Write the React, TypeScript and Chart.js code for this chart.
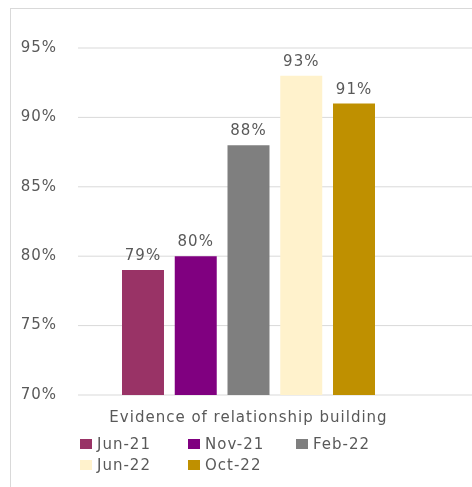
import React, { useEffect, useRef } from 'react';
import { Chart, registerables } from 'chart.js';

Chart.register(...registerables);

const categories = ['Evidence of relationship building'];
const seriesNames = ['Jun-21', 'Nov-21', 'Feb-22', 'Jun-22', 'Oct-22'];
const seriesValues = [79, 80, 88, 93, 91];
const seriesColors = ['#993366', '#800080', '#7f7f7f', '#fff2cc', '#bf9000'];
const yTicks = [70, 75, 80, 85, 90, 95];

const TEXT = '#595959';
const FONT = { family: 'DejaVu Sans', size: 15 };
const FONT_STR = `${FONT.size}px "${FONT.family}"`;

const spacingPlugin = {
  id: 'spacing',
  beforeUpdate(chart: any) {
    chart.ctx.letterSpacing = '1px';
  },
  beforeDraw(chart: any) {
    chart.ctx.letterSpacing = '1px';
  },
};

const gridPlugin = {
  id: 'extGrid',
  beforeDatasetsDraw(chart: any) {
    const { ctx, chartArea, scales } = chart;
    const y = scales.y;
    ctx.save();
    ctx.strokeStyle = '#d9d9d9';
    ctx.lineWidth = 1;
    y.ticks.forEach((t: any) => {
      const py = y.getPixelForValue(t.value);
      ctx.beginPath();
      ctx.moveTo(chartArea.left, py);
      ctx.lineTo(chart.width, py);
      ctx.stroke();
    });
    ctx.restore();
  },
};

const labelPlugin = {
  id: 'valueLabels',
  afterDatasetsDraw(chart: any) {
    const { ctx } = chart;
    ctx.save();
    ctx.fillStyle = TEXT;
    ctx.font = FONT_STR;
    ctx.textAlign = 'center';
    ctx.textBaseline = 'alphabetic';
    chart.data.datasets.forEach((ds: any, i: number) => {
      const meta = chart.getDatasetMeta(i);
      meta.data.forEach((el: any, j: number) => {
        ctx.fillText(ds.data[j] + '%', el.x, el.y - 10);
      });
    });
    ctx.restore();
  },
};

// Legend laid out in a fixed 3-column grid below the category axis (like Excel)
const gridLegendPlugin = {
  id: 'gridLegend',
  afterDraw(chart: any) {
    const { ctx, chartArea } = chart;
    const colW = 108;
    const rowH = 21;
    ctx.save();
    ctx.font = FONT_STR;
    ctx.textAlign = 'left';
    ctx.textBaseline = 'middle';
    chart.data.datasets.forEach((ds: any, i: number) => {
      const col = i % 3;
      const row = Math.floor(i / 3);
      const x = chartArea.left + 2 + col * colW;
      const cy = chartArea.bottom + 49 + row * rowH;
      ctx.fillStyle = ds.backgroundColor;
      ctx.fillRect(x, cy - 5, 12, 10);
      ctx.fillStyle = TEXT;
      ctx.fillText(ds.label, x + 17, cy + 1);
    });
    ctx.restore();
  },
};

export default function App() {
  const ref = useRef<HTMLCanvasElement | null>(null);

  useEffect(() => {
    if (!ref.current) return;
    const chart = new Chart(ref.current, {
      type: 'bar',
      data: {
        labels: categories,
        datasets: seriesNames.map((name, i) => ({
          label: name,
          data: [seriesValues[i]],
          backgroundColor: seriesColors[i],
          borderWidth: 0,
          categoryPercentage: 0.7735,
          barPercentage: 0.796,
        })),
      },
      options: {
        responsive: false,
        animation: false,
        layout: { padding: { top: 39, right: 53, bottom: 55.5, left: 0 } },
        scales: {
          x: {
            grid: { display: false, drawTicks: false },
            border: { display: false },
            ticks: { color: TEXT, font: FONT, padding: 14, maxRotation: 0, autoSkip: false },
            afterFit: (s: any) => {
              s.height = 36.5;
            },
          },
          y: {
            min: 70,
            max: 95,
            grid: { display: false, drawTicks: false },
            border: { display: false },
            afterBuildTicks: (s: any) => {
              s.ticks = yTicks.map((v) => ({ value: v }));
            },
            ticks: {
              color: TEXT,
              font: FONT,
              padding: 21,
              callback: (v: any) => v + '%',
            },
            afterFit: (s: any) => {
              s.width = 67;
            },
          },
        },
        plugins: {
          legend: { display: false },
          tooltip: { enabled: false },
        },
      } as any,
      plugins: [spacingPlugin, gridPlugin, labelPlugin, gridLegendPlugin],
    });
    return () => chart.destroy();
  }, []);

  return (
    <div
      style={{
        position: 'absolute',
        left: 10,
        top: 8,
        width: 462,
        height: 479,
        boxSizing: 'border-box',
        borderLeft: '1px solid #d9d9d9',
        borderTop: '1px solid #d9d9d9',
        background: '#fff',
      }}
    >
      <canvas ref={ref} width={461} height={478} style={{ display: 'block' }} />
    </div>
  );
}
